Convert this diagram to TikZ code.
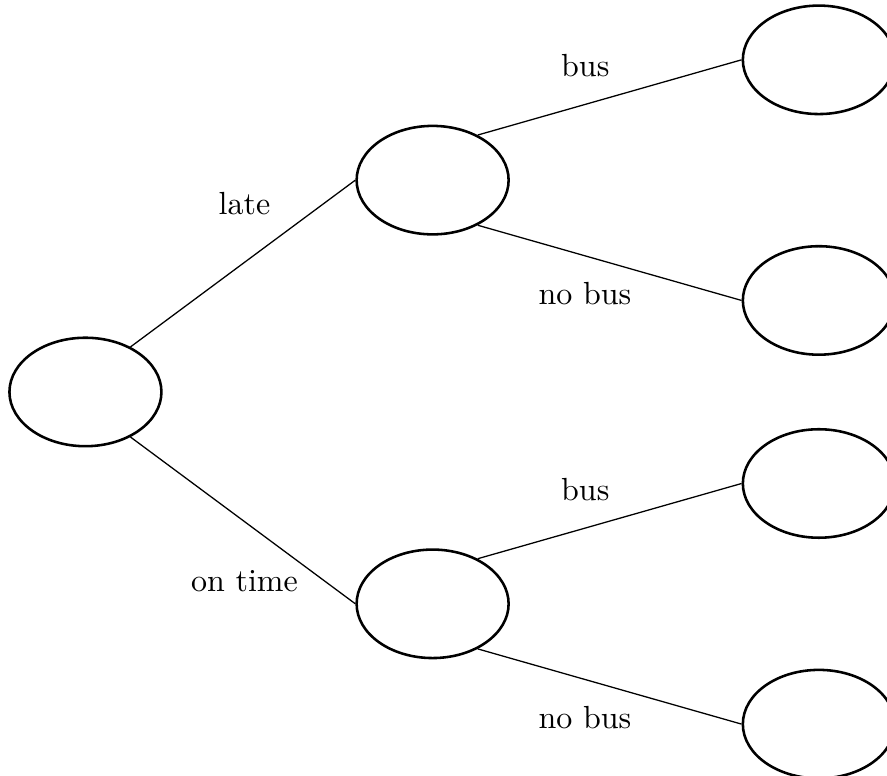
\documentclass[tikz,border=0pt]{standalone}
\usepackage{tikz}
\usetikzlibrary{positioning,shapes.geometric}
\begin{document}
\begin{tikzpicture}
[
on grid,
cell-a/.style={ellipse, draw, thick, minimum width = 47.5pt, minimum height = 33.9pt, inner sep = 0pt},
text-a/.style={black, anchor = base},
edge-a/.style={thin}
]
\useasboundingbox (-26.7pt,-120pt) rectangle (250.5pt,122.5pt);
\node (start)        [cell-a]                                                {};
\node (late)         [cell-a, above right = 66.2pt and 108.5pt of start]     {};
\node (time)         [cell-a, below right = 66.2pt and 108.5pt of start]     {};
\node (late-bus)     [cell-a, above right = 37.6pt and 120.7pt of late]      {};
\node (late-nobus)   [cell-a, below right = 37.6pt and 120.7pt of late]      {};
\node (time-bus)     [cell-a, above right = 37.6pt and 120.7pt of time]      {};
\node (time-nobus)   [cell-a, below right = 37.6pt and 120.7pt of time]      {};
% branches
\draw [edge-a] (start.45)  -- (late.west);
\draw [edge-a] (start.-45) -- (time.west);
\draw [edge-a] (late.45)   -- (late-bus.west);
\draw [edge-a] (late.-45)  -- (late-nobus.west);
\draw [edge-a] (time.45)   -- (time-bus.west);
\draw [edge-a] (time.-45)  -- (time-nobus.west);
% labels
\node (lbl-late)       [above right = 55.5pt and 49.7pt of start, text-a]  {late};
\node (lbl-time)       [below right = 62.4pt and 49.7pt of start, text-a]  {on time};
\node (lbl-late-bus)   [above right = 32.4pt and 47.7pt of late, text-a]   {bus};
\node (lbl-late-nobus) [below right = 39.0pt and 47.6pt of late, text-a]   {no bus};
\node (lbl-time-bus)   [above right = 32.4pt and 47.7pt of time, text-a]   {bus};
\node (lbl-time-nobus) [below right = 39.0pt and 47.6pt of time, text-a]   {no bus};
\end{tikzpicture}
\end{document}
